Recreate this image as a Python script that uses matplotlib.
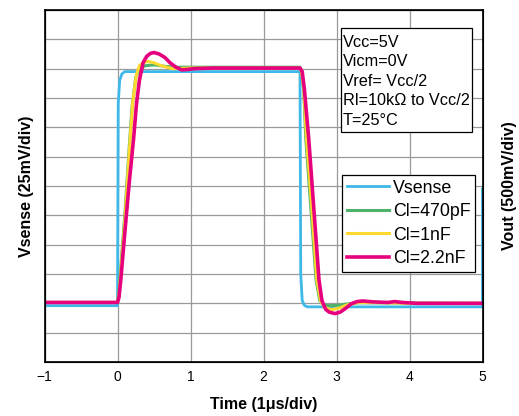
import matplotlib
matplotlib.use("Agg")
import matplotlib.pyplot as plt
from matplotlib.patches import Rectangle

plt.rcParams["font.family"] = ["Liberation Sans", "DejaVu Sans"]

# scope traces, in grid divisions (y) against time in us (x)
t_vsense = [-1.0, 0.0, 0.01, 0.03, 0.06, 0.1, 2.5, 2.51, 2.53, 2.56, 2.6, 5.0, 5.0]
v_vsense = [1.92, 1.92, 8.8, 9.6, 9.82, 9.9, 9.9, 3.0, 2.1, 1.93, 1.88, 1.88, 5.9]

t_470p = [-1.0, 0.0, 0.02, 0.05, 0.1, 0.16, 0.2, 0.25, 0.3, 0.38, 0.5, 0.65, 0.8, 2.5,
          2.52, 2.55, 2.58, 2.65, 2.72, 2.77, 2.82, 2.9, 3.0, 3.15, 3.3, 5.0]
v_470p = [2.03, 2.03, 2.4, 3.4, 5.0, 7.3, 8.7, 9.7, 10.0, 10.1, 10.13, 10.08, 10.05, 10.05,
          9.9, 9.3, 7.6, 5.2, 2.8, 2.1, 1.95, 1.92, 1.93, 1.98, 2.02, 2.0]

t_1n = [-1.0, 0.0, 0.02, 0.05, 0.1, 0.17, 0.21, 0.26, 0.3, 0.35, 0.42, 0.5, 0.6, 0.75, 1.0, 2.5,
        2.52, 2.55, 2.59, 2.66, 2.73, 2.78, 2.83, 2.9, 2.95, 3.05, 3.15, 3.3, 3.5, 4.0, 5.0]
v_1n = [2.03, 2.03, 2.3, 3.2, 4.8, 7.5, 8.9, 9.8, 10.1, 10.2, 10.25, 10.2, 10.1, 10.0, 10.02, 10.02,
        9.9, 9.4, 7.6, 5.3, 2.8, 2.1, 1.88, 1.8, 1.79, 1.85, 1.95, 2.03, 2.03, 2.0, 2.0]

t_2n2 = [-1.0, 0.0, 0.02, 0.045, 0.1, 0.16, 0.22, 0.26, 0.3, 0.35, 0.4, 0.45, 0.5, 0.57, 0.65,
         0.72, 0.8, 0.88, 0.95, 1.05, 1.3, 2.5, 2.53, 2.56, 2.62, 2.69, 2.76, 2.8, 2.85, 2.9,
         2.98, 3.05, 3.12, 3.2, 3.28, 3.36, 3.5, 3.7, 3.8, 3.9, 4.1, 5.0]
v_2n2 = [2.03, 2.03, 2.2, 2.8, 4.4, 6.1, 7.6, 8.8, 9.6, 10.2, 10.42, 10.52, 10.55, 10.5, 10.38,
         10.2, 10.05, 9.96, 9.97, 10.0, 10.02, 10.02, 9.9, 9.3, 7.6, 5.2, 2.8, 2.1, 1.8, 1.7,
         1.65, 1.7, 1.82, 1.98, 2.06, 2.08, 2.05, 2.03, 2.06, 2.03, 2.0, 2.0]

time_ticks = [-1, 0, 1, 2, 3, 4, 5]
conditions = ["Vcc=5V", "Vicm=0V", "Vref= Vcc/2", "Rl=10k\u03a9 to Vcc/2", "T=25\u00b0C"]

fig = plt.figure(figsize=(5.19, 4.16), dpi=100)
ax = fig.add_axes([44.5 / 519, 1 - 362 / 416, 438 / 519, 352 / 416])

ax.plot(t_vsense, v_vsense, color="#3db8e8", lw=2.0, label="Vsense")
ax.plot(t_470p, v_470p, color="#4fb26a", lw=2.2, label="Cl=470pF")
ax.plot(t_1n, v_1n, color="#ffd92e", lw=2.2, label="Cl=1nF")
ax.plot(t_2n2, v_2n2, color="#e6007e", lw=2.6, label="Cl=2.2nF")

ax.set_xlim(-1, 5)
ax.set_ylim(0, 12)
ax.set_xticks(time_ticks)
ax.set_yticks(range(13))
ax.set_yticklabels([])
ax.tick_params(length=0)
ax.tick_params(axis="x", labelsize=10, pad=6)
ax.grid(True, color="#999999", lw=0.9)
ax.set_axisbelow(True)
for s in ax.spines.values():
    s.set_linewidth(1.2)

ax.set_xlabel("Time (1\u03bcs/div)", fontsize=11.5, fontweight="bold", labelpad=9)
ax.set_ylabel("Vsense (25mV/div)", fontsize=11.5, fontweight="bold", labelpad=4)
ax2 = ax.twinx()
ax2.set_ylim(0, 12)
ax2.set_yticks([])
ax2.set_ylabel("Vout (500mV/div)", fontsize=11.5, fontweight="bold", labelpad=14)

# test conditions box
ax.add_patch(Rectangle((0.676, 0.654), 0.299, 0.294, transform=ax.transAxes,
                       fc="white", ec="black", lw=0.9, zorder=5))
ax.text(0.681, 0.93, "\n".join(conditions), transform=ax.transAxes, fontsize=11.7,
        ha="left", va="top", linespacing=1.38, zorder=6)

leg = ax.legend(loc="upper left", bbox_to_anchor=(0.68, 0.531), borderaxespad=0,
                fontsize=12.8, handlelength=2.35, handletextpad=0.25, labelspacing=0.37,
                borderpad=0.25, fancybox=False, framealpha=1, edgecolor="black")
leg.get_frame().set_linewidth(0.9)

fig.savefig("out.png", dpi=100)
